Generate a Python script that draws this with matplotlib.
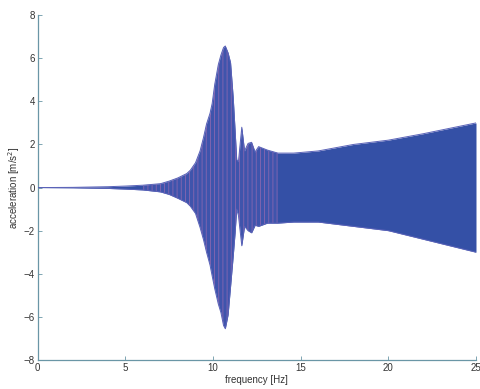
import matplotlib
matplotlib.use("Agg")
import matplotlib.pyplot as plt
import numpy as np

freq = [0.0, 2.0, 4.0, 5.0, 6.0, 7.0, 7.5, 8.0, 8.5, 8.7, 9.0, 9.26, 9.45, 9.63, 9.83, 9.95,
        10.1, 10.3, 10.45, 10.6, 10.7, 10.86, 11.0, 11.15, 11.26, 11.35, 11.45, 11.64,
        11.8, 12.0, 12.2, 12.4, 12.6, 13.1, 13.7, 14.6, 16.0, 18.0, 20.0, 22.0, 25.0]
upper = [0.0, 0.01, 0.04, 0.07, 0.11, 0.18, 0.3, 0.45, 0.65, 0.8, 1.15, 1.7, 2.3, 2.95, 3.45, 3.9,
         4.8, 5.7, 6.15, 6.5, 6.57, 6.25, 5.8, 4.2, 2.65, 1.3, 1.2, 2.8,
         1.7, 2.05, 2.1, 1.65, 1.9, 1.74, 1.6, 1.6, 1.7, 2.0, 2.2, 2.5, 3.0]
lower = [0.0, -0.01, -0.04, -0.07, -0.11, -0.2, -0.32, -0.5, -0.7, -0.86, -1.2, -1.85, -2.4, -3.0, -3.6, -4.1,
         -4.7, -5.4, -5.8, -6.4, -6.55, -5.9, -4.6, -3.2, -2.1, -1.0, -1.3, -2.7,
         -1.8, -2.0, -2.1, -1.75, -1.8, -1.65, -1.65, -1.6, -1.6, -1.8, -2.0, -2.4, -3.0]

xticks = [0, 5, 10, 15, 20, 25]
yticks = [-8, -6, -4, -2, 0, 2, 4, 6, 8]

plt.rcParams["font.family"] = ["Liberation Sans", "DejaVu Sans"]
plt.rcParams["hatch.linewidth"] = 0.6

fig = plt.figure(figsize=(4.81, 3.89), dpi=100)
ax = fig.add_axes([0.0784, 0.0746, 0.9112, 0.8864])

f = np.array(freq)
u = np.array(upper)
l = np.array(lower)

ax.fill_between(f, l, u, color="#3450a6", linewidth=0, zorder=2)
# pinkish stripes of the second trace around the resonance
m = (f >= 6.0) & (f <= 13.7)
ax.fill_between(f[m], l[m], u[m], facecolor="#4a58b2", edgecolor="#d07ab4",
                hatch="||||", linewidth=0, alpha=0.5, zorder=3)
ax.plot(f, u, color="#5a62b8", lw=0.7, zorder=4)
ax.plot(f, l, color="#5a62b8", lw=0.7, zorder=4)

ax.set_xlim(0, 25)
ax.set_ylim(-8, 8)
ax.set_xticks(xticks)
ax.set_yticks(yticks)

spine_col = "#6a96a6"
for s in ["top", "right"]:
    ax.spines[s].set_visible(False)
for s in ["left", "bottom"]:
    ax.spines[s].set_color(spine_col)
    ax.spines[s].set_linewidth(0.9)
ax.tick_params(direction="in", length=3, width=0.6, colors=spine_col,
               labelcolor="#333333", labelsize=7, pad=2)

ax.set_xlabel("frequency [Hz]", fontsize=7, color="#333333", labelpad=1.5)
ax.set_ylabel(r"acceleration [m/s$^2$]", fontsize=7, color="#333333", labelpad=1)

fig.savefig("out.png", dpi=100)
